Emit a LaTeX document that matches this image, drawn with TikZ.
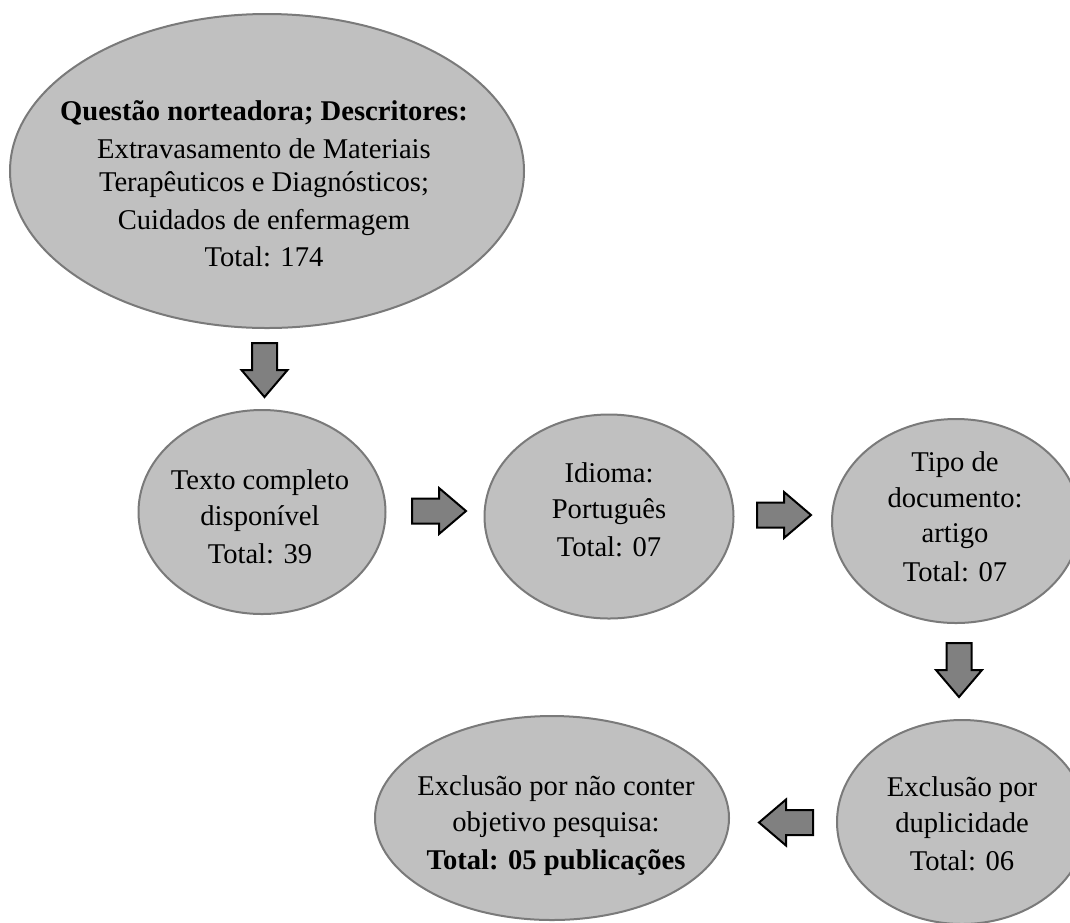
\documentclass[tikz,border=0pt]{standalone}
\usepackage{fontspec}
\setmainfont{Liberation Serif}
\usetikzlibrary{shapes.geometric}
\definecolor{bubblefill}{RGB}{192,192,192}
\definecolor{bubbleline}{RGB}{122,122,122}
\definecolor{arrowfill}{RGB}{128,128,128}
\tikzset{
  bubble/.style={ellipse, draw=bubbleline, line width=2pt, fill=bubblefill, inner sep=0pt},
  txt/.style={align=center, font=\fontsize{28.6}{35.5}\selectfont, inner sep=0pt},
  blockarrow/.pic={\draw[fill=arrowfill, draw=black, line width=2pt, line join=miter]
    (0,-12.5) -- (27,-12.5) -- (27,-23) -- (54,0) -- (27,23) -- (27,12.5) -- (0,12.5) -- cycle;}
}
\begin{document}
\begin{tikzpicture}[x=1pt,y=-1pt]
\useasboundingbox (0,0) rectangle (1070,922);
\clip (0,0) rectangle (1070,922);
% bubbles
\node[bubble, minimum width=514pt, minimum height=314pt] (q) at (267,171) {};
\node[bubble, minimum width=247pt, minimum height=204pt] (texto) at (262,512) {};
\node[bubble, minimum width=249pt, minimum height=204pt] (idioma) at (609,516.5) {};
\node[bubble, minimum width=248pt, minimum height=204pt] (tipo) at (956,521) {};
\node[bubble, minimum width=250pt, minimum height=204pt] (dup) at (962,822) {};
\node[bubble, minimum width=354pt, minimum height=204pt] (excl) at (552,818) {};
% block arrows
\pic[rotate=-90] (a1) at (264.5,343) {blockarrow};
\pic (a2) at (412,511) {blockarrow};
\pic (a3) at (757,515) {blockarrow};
\pic[rotate=-90] (a4) at (959,643) {blockarrow};
\pic[rotate=180] (a5) at (813,822.5) {blockarrow};
% texts
\node[txt] (tq) at (264,184) {\textbf{Questão norteadora; Descritores:}\\[2pt]
  Extravasamento de Materiais\\[-2pt] Terapêuticos e Diagnósticos;\\[2pt]
  Cuidados de enfermagem\\[2pt] Total: 174};
\node[txt] (ttexto) at (260,517) {Texto completo\\ disponível\\[3pt] Total: 39};
\node[txt] (tidioma) at (609,510) {Idioma:\\ Português\\[3pt] Total: 07};
\node[txt] (ttipo) at (955,517) {Tipo de\\ documento:\\ artigo\\[3pt] Total: 07};
\node[txt] (tdup) at (962,824) {Exclusão por\\ duplicidade\\[3pt] Total: 06};
\node[txt] (texcl) at (556,826) {Exclusão por não conter\\ objetivo pesquisa:\\[3pt]
  \textbf{Total: 05 publicações}};
\end{tikzpicture}
\end{document}
